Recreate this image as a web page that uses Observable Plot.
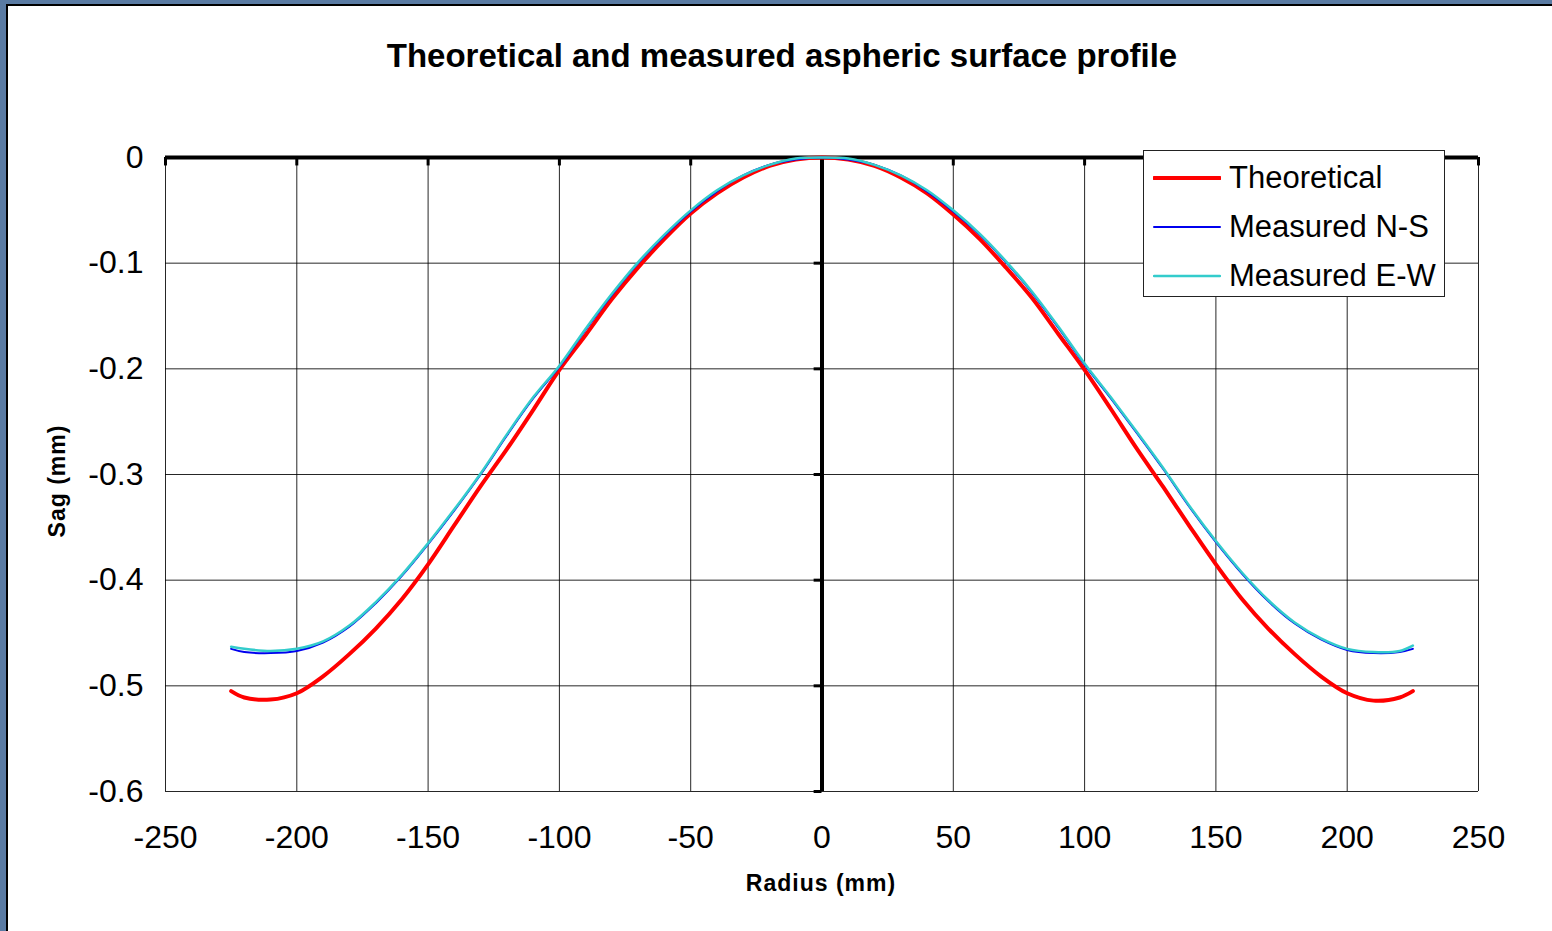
<!DOCTYPE html>
<html><head><meta charset="utf-8">
<script src="https://cdn.jsdelivr.net/npm/d3@7"></script>
<script src="https://cdn.jsdelivr.net/npm/@observablehq/plot@0.6"></script>
<style>
html,body{margin:0;padding:0;}
body{width:1552px;height:931px;background:#5a7ba3;position:relative;overflow:hidden;font-family:"Liberation Sans",Arial,sans-serif;}
#panel{position:absolute;left:6px;top:4px;right:0;bottom:0;background:#fff;border-left:2px solid #000;border-top:2px solid #000;}
#title{position:absolute;left:6px;width:1552px;top:37px;text-align:center;font-weight:bold;font-size:33px;color:#000;}
#chart{position:absolute;left:0;top:0;}
#xlabel{position:absolute;left:621px;width:400px;top:870px;text-align:center;font-weight:bold;font-size:23px;letter-spacing:1px;}
#ylabel{position:absolute;left:57px;top:481px;transform:translate(-50%,-50%) rotate(-90deg);font-weight:bold;font-size:23px;white-space:nowrap;letter-spacing:1px;}
#legend{position:absolute;left:1143px;top:150px;width:300px;height:145px;background:#fff;border:1px solid #222;}
.item{position:absolute;left:9px;height:40px;display:flex;align-items:center;font-size:31px;}
.sw{width:68px;margin-right:8px;}
</style></head>
<body>
<div id="panel"></div>
<div id="title">Theoretical and measured aspheric surface profile</div>
<div id="chart"></div>
<div id="xlabel">Radius (mm)</div>
<div id="ylabel">Sag (mm)</div>
<div id="legend"></div>
<script>
const radius = [-225,-220,-210,-200,-190,-180,-170,-160,-150,-140,-130,-120,-110,-100,-90,-80,-70,-60,-50,-40,-30,-20,-10,0,
  10,20,30,40,50,60,70,80,90,100,110,120,130,140,150,160,170,180,190,200,210,220,225];
const theoretical = [-0.505,-0.511,-0.513,-0.507,-0.491,-0.470,-0.446,-0.418,-0.385,-0.348,-0.311,-0.276,-0.239,-0.201,-0.168,-0.134,-0.104,-0.077,-0.053,-0.034,-0.019,-0.008,-0.002,0,
  -0.002,-0.008,-0.019,-0.034,-0.054,-0.077,-0.104,-0.133,-0.167,-0.201,-0.238,-0.276,-0.312,-0.349,-0.385,-0.418,-0.446,-0.470,-0.491,-0.507,-0.514,-0.511,-0.505];
const measuredNS = [-0.465,-0.468,-0.469,-0.467,-0.459,-0.444,-0.422,-0.396,-0.366,-0.334,-0.300,-0.263,-0.228,-0.198,-0.163,-0.130,-0.100,-0.074,-0.051,-0.032,-0.017,-0.007,-0.002,0,
  -0.002,-0.007,-0.017,-0.032,-0.051,-0.073,-0.099,-0.128,-0.161,-0.196,-0.228,-0.261,-0.295,-0.331,-0.364,-0.394,-0.420,-0.441,-0.456,-0.466,-0.469,-0.468,-0.465];
const measuredEW = [-0.463,-0.465,-0.467,-0.465,-0.458,-0.443,-0.421,-0.395,-0.365,-0.333,-0.299,-0.262,-0.227,-0.197,-0.162,-0.129,-0.099,-0.073,-0.050,-0.031,-0.017,-0.007,-0.001,0,
  -0.001,-0.007,-0.017,-0.031,-0.050,-0.072,-0.098,-0.127,-0.160,-0.195,-0.227,-0.260,-0.294,-0.330,-0.363,-0.393,-0.419,-0.440,-0.455,-0.465,-0.468,-0.467,-0.462];
const xTicks = [-250,-200,-150,-100,-50,0,50,100,150,200,250];
const yTicks = [0,-0.1,-0.2,-0.3,-0.4,-0.5,-0.6];
const seriesNames = ["Theoretical","Measured N-S","Measured E-W"];
const seriesColors = ["#ff0000","#0000ee","#33cccc"];
const seriesWidths = [4,2,2.5];

const rows = radius.map((r,i)=>({r, theo: theoretical[i], ns: measuredNS[i], ew: measuredEW[i]}));

const chart = Plot.plot({
  width:1552, height:931,
  marginLeft:165, marginRight:74, marginTop:157, marginBottom:140,
  style:{background:"transparent", fontFamily:"'Liberation Sans', Arial, sans-serif", fontSize:"32px", color:"#000"},
  x:{domain:[-250,250]},
  y:{domain:[-0.6,0]},
  marks:[
    Plot.gridX(xTicks,{stroke:"#000", strokeOpacity:0.85, strokeWidth:1}),
    Plot.gridY(yTicks,{stroke:"#000", strokeOpacity:0.85, strokeWidth:1}),
    Plot.axisX(xTicks,{tickSize:0, tickPadding:34, label:null, tickFormat:d=>String(d), fontSize:32}),
    Plot.axisY(yTicks,{tickSize:0, tickPadding:22, label:null, tickFormat:d=>String(d), fontSize:32}),
    Plot.ruleX(xTicks,{y1:0, y2:-0.008, stroke:"#000", strokeWidth:3}),
    Plot.ruleY(yTicks,{x1:-3, x2:0, stroke:"#000", strokeWidth:3}),
    Plot.ruleX([0],{stroke:"#000", strokeWidth:4}),
    Plot.ruleY([0],{stroke:"#000", strokeWidth:4}),
    Plot.line(rows,{x:"r", y:"theo", stroke:seriesColors[0], strokeWidth:seriesWidths[0], curve:"catmull-rom"}),
    Plot.line(rows,{x:"r", y:"ns", stroke:seriesColors[1], strokeWidth:seriesWidths[1], curve:"catmull-rom"}),
    Plot.line(rows,{x:"r", y:"ew", stroke:seriesColors[2], strokeWidth:seriesWidths[2], curve:"catmull-rom"})
  ]
});
document.getElementById("chart").appendChild(chart);

const leg = document.getElementById("legend");
seriesNames.forEach((name,i)=>{
  const d = document.createElement("div");
  d.className = "item";
  d.style.top = (7 + i*49) + "px";
  d.innerHTML = `<svg class="sw" width="68" height="10"><line x1="1" x2="67" y1="5" y2="5" stroke="${seriesColors[i]}" stroke-width="${seriesWidths[i]}" stroke-linecap="round"/></svg><span>${name}</span>`;
  leg.appendChild(d);
});
</script>
</body></html>
